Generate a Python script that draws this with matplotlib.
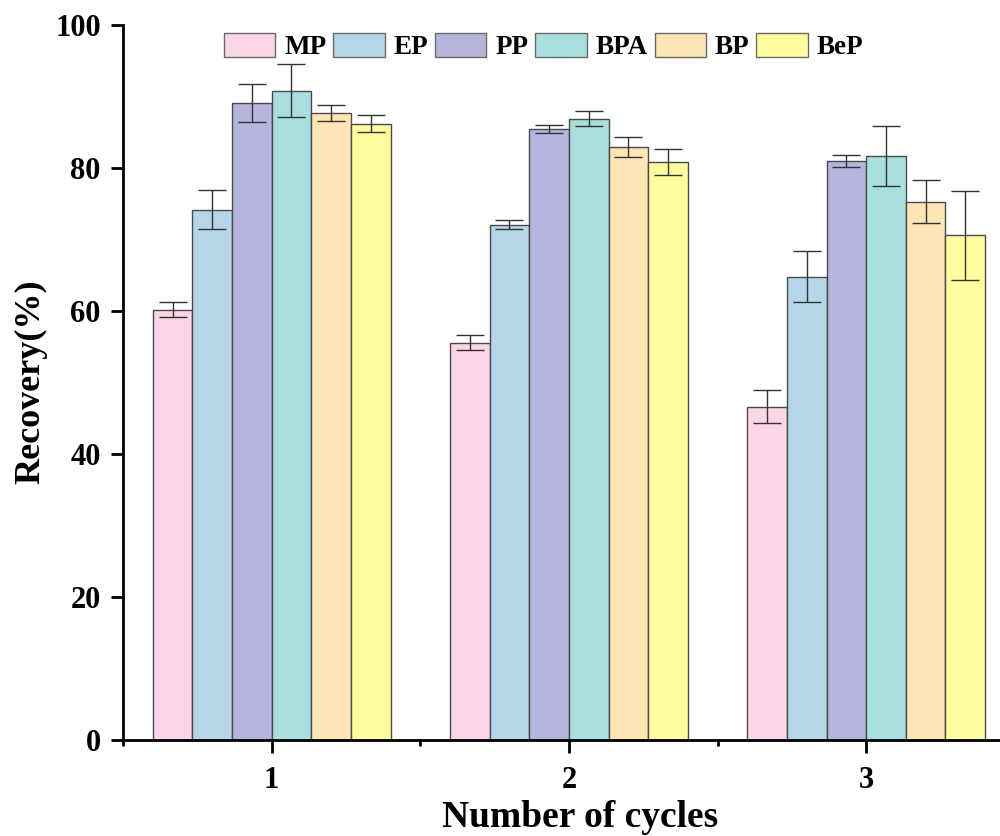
import matplotlib
matplotlib.use("Agg")
import matplotlib.pyplot as plt
import numpy as np
from matplotlib.ticker import MultipleLocator, FixedLocator

plt.rcParams['font.family'] = ['Liberation Serif', 'DejaVu Serif']
plt.rcParams['font.weight'] = 'bold'

cycles = [1, 2, 3]
compounds = ["MP", "EP", "PP", "BPA", "BP", "BeP"]
MP = [60.2, 55.6, 46.6]
EP = [74.2, 72.1, 64.8]
PP = [89.1, 85.5, 81.0]
BPA = [90.8, 86.9, 81.7]
BP = [87.7, 83.0, 75.3]
BeP = [86.2, 80.8, 70.6]
MP_err = [1.0, 1.1, 2.3]
EP_err = [2.7, 0.6, 3.6]
PP_err = [2.6, 0.55, 0.85]
BPA_err = [3.7, 1.05, 4.2]
BP_err = [1.1, 1.4, 3.05]
BeP_err = [1.2, 1.8, 6.25]

values = [MP, EP, PP, BPA, BP, BeP]
errors = [MP_err, EP_err, PP_err, BPA_err, BP_err, BeP_err]
colors = ["#FDD5E8", "#B4D6E6", "#B5B5DE", "#A9DEDF", "#FDE5B5", "#FFFD9D"]

fig = plt.figure(figsize=(10, 8.36), dpi=100)
ax = fig.add_axes([0.123, 0.1148, 0.877, 0.8552])

n = len(compounds)
width = 0.8 / n
x = np.array(cycles, dtype=float)
for i, (name, vals, errs, c) in enumerate(zip(compounds, values, errors, colors)):
    pos = x - 0.4 + width * (i + 0.5)
    ax.bar(pos, vals, width, color=c, edgecolor="#4a4a4a", linewidth=1.0, label=name, zorder=2)
    ax.errorbar(pos, vals, yerr=errs, fmt='none', ecolor="#333333", elinewidth=1.0,
                capsize=10, capthick=1.0, zorder=3)

ax.set_xlim(0.5, 3.45)
ax.set_ylim(0, 100)
ax.xaxis.set_major_locator(FixedLocator(cycles))
ax.xaxis.set_minor_locator(FixedLocator([0.5, 1.5, 2.5]))
ax.yaxis.set_major_locator(MultipleLocator(20))

for s in ["top", "right"]:
    ax.spines[s].set_visible(False)
for s in ["left", "bottom"]:
    ax.spines[s].set_linewidth(2.0)

ax.tick_params(axis='both', which='major', direction='out', length=9, width=2.0, labelsize=22)
ax.tick_params(axis='y', which='major', pad=7)
ax.tick_params(axis='x', which='minor', direction='out', length=4, width=2.0)
ax.tick_params(axis='x', which='major', pad=10)
for lab in ax.get_xticklabels() + ax.get_yticklabels():
    lab.set_fontweight('bold')

ax.set_xlabel("Number of cycles", fontsize=27, fontweight='bold', va='baseline')
ax.xaxis.set_label_coords(0.58, 9 / 836, transform=fig.transFigure)
ax.set_ylabel("Recovery(%)", fontsize=26, fontweight='bold', va='center')
ax.yaxis.set_label_coords(0.031, (836 - 382) / 836, transform=fig.transFigure)

leg = ax.legend(loc='upper left', bbox_to_anchor=(205 / 1000, 1 - 14 / 836),
                bbox_transform=fig.transFigure, ncol=6, frameon=False,
                prop={'size': 19.5, 'weight': 'bold'}, handlelength=1.9, handleheight=1.0,
                columnspacing=0.25, handletextpad=0.33, borderpad=0.2)
for h in leg.legend_handles:
    h.set_edgecolor("#6a6a6a")

fig.savefig("out.png", dpi=100)
